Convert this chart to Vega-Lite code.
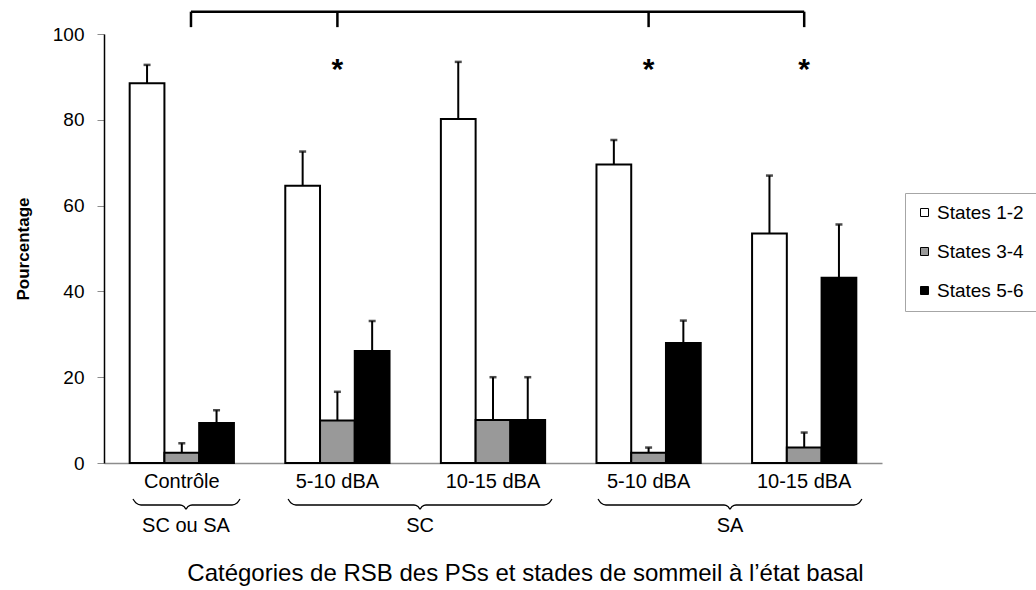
{
  "$schema": "https://vega.github.io/schema/vega-lite/v6.json",
  "width": 778,
  "height": 429,
  "autosize": {"type": "none"},
  "padding": {"left": 104, "top": 34, "right": 154, "bottom": 127},
  "background": "white",
  "config": {
    "view": {"stroke": null},
    "font": "Liberation Sans",
    "text": {"font": "Liberation Sans"}
  },
  "datasets": {
    "bars": [
      {"cat": "ctrl", "state": "States 1-2", "value": 88.5, "hi": 92.8},
      {"cat": "ctrl", "state": "States 3-4", "value": 2.4, "hi": 4.6},
      {"cat": "ctrl", "state": "States 5-6", "value": 9.3, "hi": 12.3},
      {"cat": "sc1", "state": "States 1-2", "value": 64.6, "hi": 72.6},
      {"cat": "sc1", "state": "States 3-4", "value": 9.9, "hi": 16.6},
      {"cat": "sc1", "state": "States 5-6", "value": 26.1, "hi": 33.1},
      {"cat": "sc2", "state": "States 1-2", "value": 80.2, "hi": 93.5},
      {"cat": "sc2", "state": "States 3-4", "value": 10.0, "hi": 20.0},
      {"cat": "sc2", "state": "States 5-6", "value": 10.0, "hi": 20.0},
      {"cat": "sa1", "state": "States 1-2", "value": 69.6, "hi": 75.3},
      {"cat": "sa1", "state": "States 3-4", "value": 2.4, "hi": 3.6},
      {"cat": "sa1", "state": "States 5-6", "value": 28.0, "hi": 33.2},
      {"cat": "sa2", "state": "States 1-2", "value": 53.5, "hi": 67.0},
      {"cat": "sa2", "state": "States 3-4", "value": 3.6, "hi": 7.1},
      {"cat": "sa2", "state": "States 5-6", "value": 43.2, "hi": 55.6}
    ],
    "stars": [
      {"cat": "sc1", "v": 89.6, "t": "*"},
      {"cat": "sa1", "v": 89.6, "t": "*"},
      {"cat": "sa2", "v": 89.6, "t": "*"}
    ],
    "braces": [
      {"b": "ctrl", "u": 0.186, "v": -8.39},
      {"b": "ctrl", "u": 0.206, "v": -9.32},
      {"b": "ctrl", "u": 0.238, "v": -9.79},
      {"b": "ctrl", "u": 0.488, "v": -9.79},
      {"b": "ctrl", "u": 0.514, "v": -10.14},
      {"b": "ctrl", "u": 0.527, "v": -10.72},
      {"b": "ctrl", "u": 0.540, "v": -10.14},
      {"b": "ctrl", "u": 0.566, "v": -9.79},
      {"b": "ctrl", "u": 0.823, "v": -9.79},
      {"b": "ctrl", "u": 0.855, "v": -9.32},
      {"b": "ctrl", "u": 0.874, "v": -8.39},
      {"b": "sc", "u": 1.183, "v": -8.39},
      {"b": "sc", "u": 1.202, "v": -9.32},
      {"b": "sc", "u": 1.234, "v": -9.79},
      {"b": "sc", "u": 1.992, "v": -9.79},
      {"b": "sc", "u": 2.018, "v": -10.14},
      {"b": "sc", "u": 2.031, "v": -10.72},
      {"b": "sc", "u": 2.044, "v": -10.14},
      {"b": "sc", "u": 2.069, "v": -9.79},
      {"b": "sc", "u": 2.828, "v": -9.79},
      {"b": "sc", "u": 2.860, "v": -9.32},
      {"b": "sc", "u": 2.879, "v": -8.39},
      {"b": "sa", "u": 3.175, "v": -8.39},
      {"b": "sa", "u": 3.194, "v": -9.32},
      {"b": "sa", "u": 3.226, "v": -9.79},
      {"b": "sa", "u": 3.985, "v": -9.79},
      {"b": "sa", "u": 4.010, "v": -10.14},
      {"b": "sa", "u": 4.023, "v": -10.72},
      {"b": "sa", "u": 4.036, "v": -10.14},
      {"b": "sa", "u": 4.062, "v": -9.79},
      {"b": "sa", "u": 4.820, "v": -9.79},
      {"b": "sa", "u": 4.852, "v": -9.32},
      {"b": "sa", "u": 4.871, "v": -8.39}
    ],
    "groups": [
      {"u": 0.527, "v": -14.8, "label": "SC ou SA"},
      {"u": 2.031, "v": -14.8, "label": "SC"},
      {"u": 4.023, "v": -14.8, "label": "SA"}
    ],
    "bracketH": [
      {"u0": 0.559, "u1": 4.5, "v": 105.2}
    ],
    "bracketV": [
      {"u": 0.559, "v0": 101.6, "v1": 105.2},
      {"u": 1.5, "v0": 101.6, "v1": 105.2},
      {"u": 3.5, "v0": 101.6, "v1": 105.2},
      {"u": 4.5, "v0": 101.6, "v1": 105.2}
    ]
  },
  "layer": [
    {
      "encoding": {
        "x": {
          "field": "cat",
          "type": "nominal",
          "sort": ["ctrl", "sc1", "sc2", "sa1", "sa2"],
          "scale": {"domain": ["ctrl", "sc1", "sc2", "sa1", "sa2"], "paddingInner": 0.33, "paddingOuter": 0.165},
          "axis": {
            "title": "Catégories de RSB des PSs et stades de sommeil à l’état basal",
            "titleFontSize": 24,
            "titleFontWeight": "normal",
            "titleColor": "#000000",
            "titlePadding": 70,
            "titleX": 421,
            "titleAlign": "center",
            "labelExpr": "{'ctrl': 'Contrôle', 'sc1': '5-10 dBA', 'sc2': '10-15 dBA', 'sa1': '5-10 dBA', 'sa2': '10-15 dBA'}[datum.value]",
            "labelAngle": 0,
            "labelFontSize": 20,
            "labelColor": "#000000",
            "labelPadding": 8,
            "ticks": false,
            "domainColor": "#8c8c8c",
            "domainWidth": 1.5,
            "grid": false
          }
        }
      },
      "layer": [
        {
          "data": {"name": "bars"},
          "mark": {"type": "bar", "stroke": "#000000", "strokeWidth": 2},
          "encoding": {
            "xOffset": {"field": "state", "type": "nominal", "sort": ["States 1-2", "States 3-4", "States 5-6"], "scale": {"paddingInner": 0, "paddingOuter": 0}},
            "y": {
              "field": "value",
              "type": "quantitative",
              "scale": {"domain": [0, 100], "nice": false},
              "axis": {
                "title": "Pourcentage",
                "titleFontSize": 17,
                "titleFontWeight": "bold",
                "titleColor": "#000000",
                "titlePadding": 20,
                "values": [0, 20, 40, 60, 80, 100],
                "labelFontSize": 19,
                "labelColor": "#000000",
                "labelPadding": 13,
                "tickSize": 7,
                "tickColor": "#8c8c8c",
                "domainColor": "#000000",
                "domainWidth": 1.5,
                "grid": false
              }
            },
            "color": {
              "field": "state",
              "type": "nominal",
              "scale": {"domain": ["States 1-2", "States 3-4", "States 5-6"], "range": ["#ffffff", "#999999", "#000000"]},
              "legend": {
                "orient": "none",
                "legendX": 801,
                "legendY": 159,
                "title": " ",
                "titleOrient": "right",
                "titlePadding": 20,
                "symbolType": "square",
                "symbolSize": 64,
                "symbolStrokeColor": "#000000",
                "symbolStrokeWidth": 1,
                "symbolOffset": 0,
                "labelFontSize": 19,
                "labelColor": "#000000",
                "labelOffset": 3,
                "rowPadding": 19,
                "padding": 10,
                "strokeColor": "#a6a6a6"
              }
            }
          }
        },
        {
          "data": {"name": "bars"},
          "mark": {"type": "rule", "stroke": "#000000", "strokeWidth": 2},
          "encoding": {
            "xOffset": {"field": "state", "type": "nominal", "sort": ["States 1-2", "States 3-4", "States 5-6"]},
            "y": {"field": "value", "type": "quantitative", "scale": {"domain": [0, 100], "nice": false}},
            "y2": {"field": "hi"}
          }
        },
        {
          "data": {"name": "bars"},
          "mark": {"type": "tick", "color": "#000000", "size": 7, "thickness": 2.5, "orient": "horizontal"},
          "encoding": {
            "xOffset": {"field": "state", "type": "nominal", "sort": ["States 1-2", "States 3-4", "States 5-6"]},
            "y": {"field": "hi", "type": "quantitative", "scale": {"domain": [0, 100], "nice": false}}
          }
        },
        {
          "data": {"name": "stars"},
          "mark": {"type": "text", "fontSize": 30, "fontWeight": "bold", "baseline": "alphabetic", "align": "center", "color": "#000000"},
          "encoding": {
            "y": {"field": "v", "type": "quantitative", "scale": {"domain": [0, 100], "nice": false}},
            "text": {"field": "t"}
          }
        }
      ]
    },
    {
      "encoding": {
        "x": {"type": "quantitative", "scale": {"domain": [0, 5], "nice": false, "zero": false}, "axis": null}
      },
      "layer": [
        {
          "data": {"name": "braces"},
          "mark": {"type": "line", "interpolate": "monotone", "stroke": "#000000", "strokeWidth": 1.3},
          "encoding": {
            "x": {"field": "u", "type": "quantitative"},
            "y": {"field": "v", "type": "quantitative", "scale": {"domain": [0, 100], "nice": false}},
            "detail": {"field": "b"}
          }
        },
        {
          "data": {"name": "groups"},
          "mark": {"type": "text", "fontSize": 20, "baseline": "middle", "align": "center", "color": "#000000"},
          "encoding": {
            "x": {"field": "u", "type": "quantitative"},
            "y": {"field": "v", "type": "quantitative", "scale": {"domain": [0, 100], "nice": false}},
            "text": {"field": "label"}
          }
        },
        {
          "data": {"name": "bracketH"},
          "mark": {"type": "rule", "stroke": "#000000", "strokeWidth": 2.5},
          "encoding": {
            "x": {"field": "u0", "type": "quantitative"},
            "x2": {"field": "u1"},
            "y": {"field": "v", "type": "quantitative", "scale": {"domain": [0, 100], "nice": false}}
          }
        },
        {
          "data": {"name": "bracketV"},
          "mark": {"type": "rule", "stroke": "#000000", "strokeWidth": 2.5},
          "encoding": {
            "x": {"field": "u", "type": "quantitative"},
            "y": {"field": "v0", "type": "quantitative", "scale": {"domain": [0, 100], "nice": false}},
            "y2": {"field": "v1"}
          }
        }
      ]
    }
  ],
  "resolve": {"scale": {"x": "independent"}}
}
